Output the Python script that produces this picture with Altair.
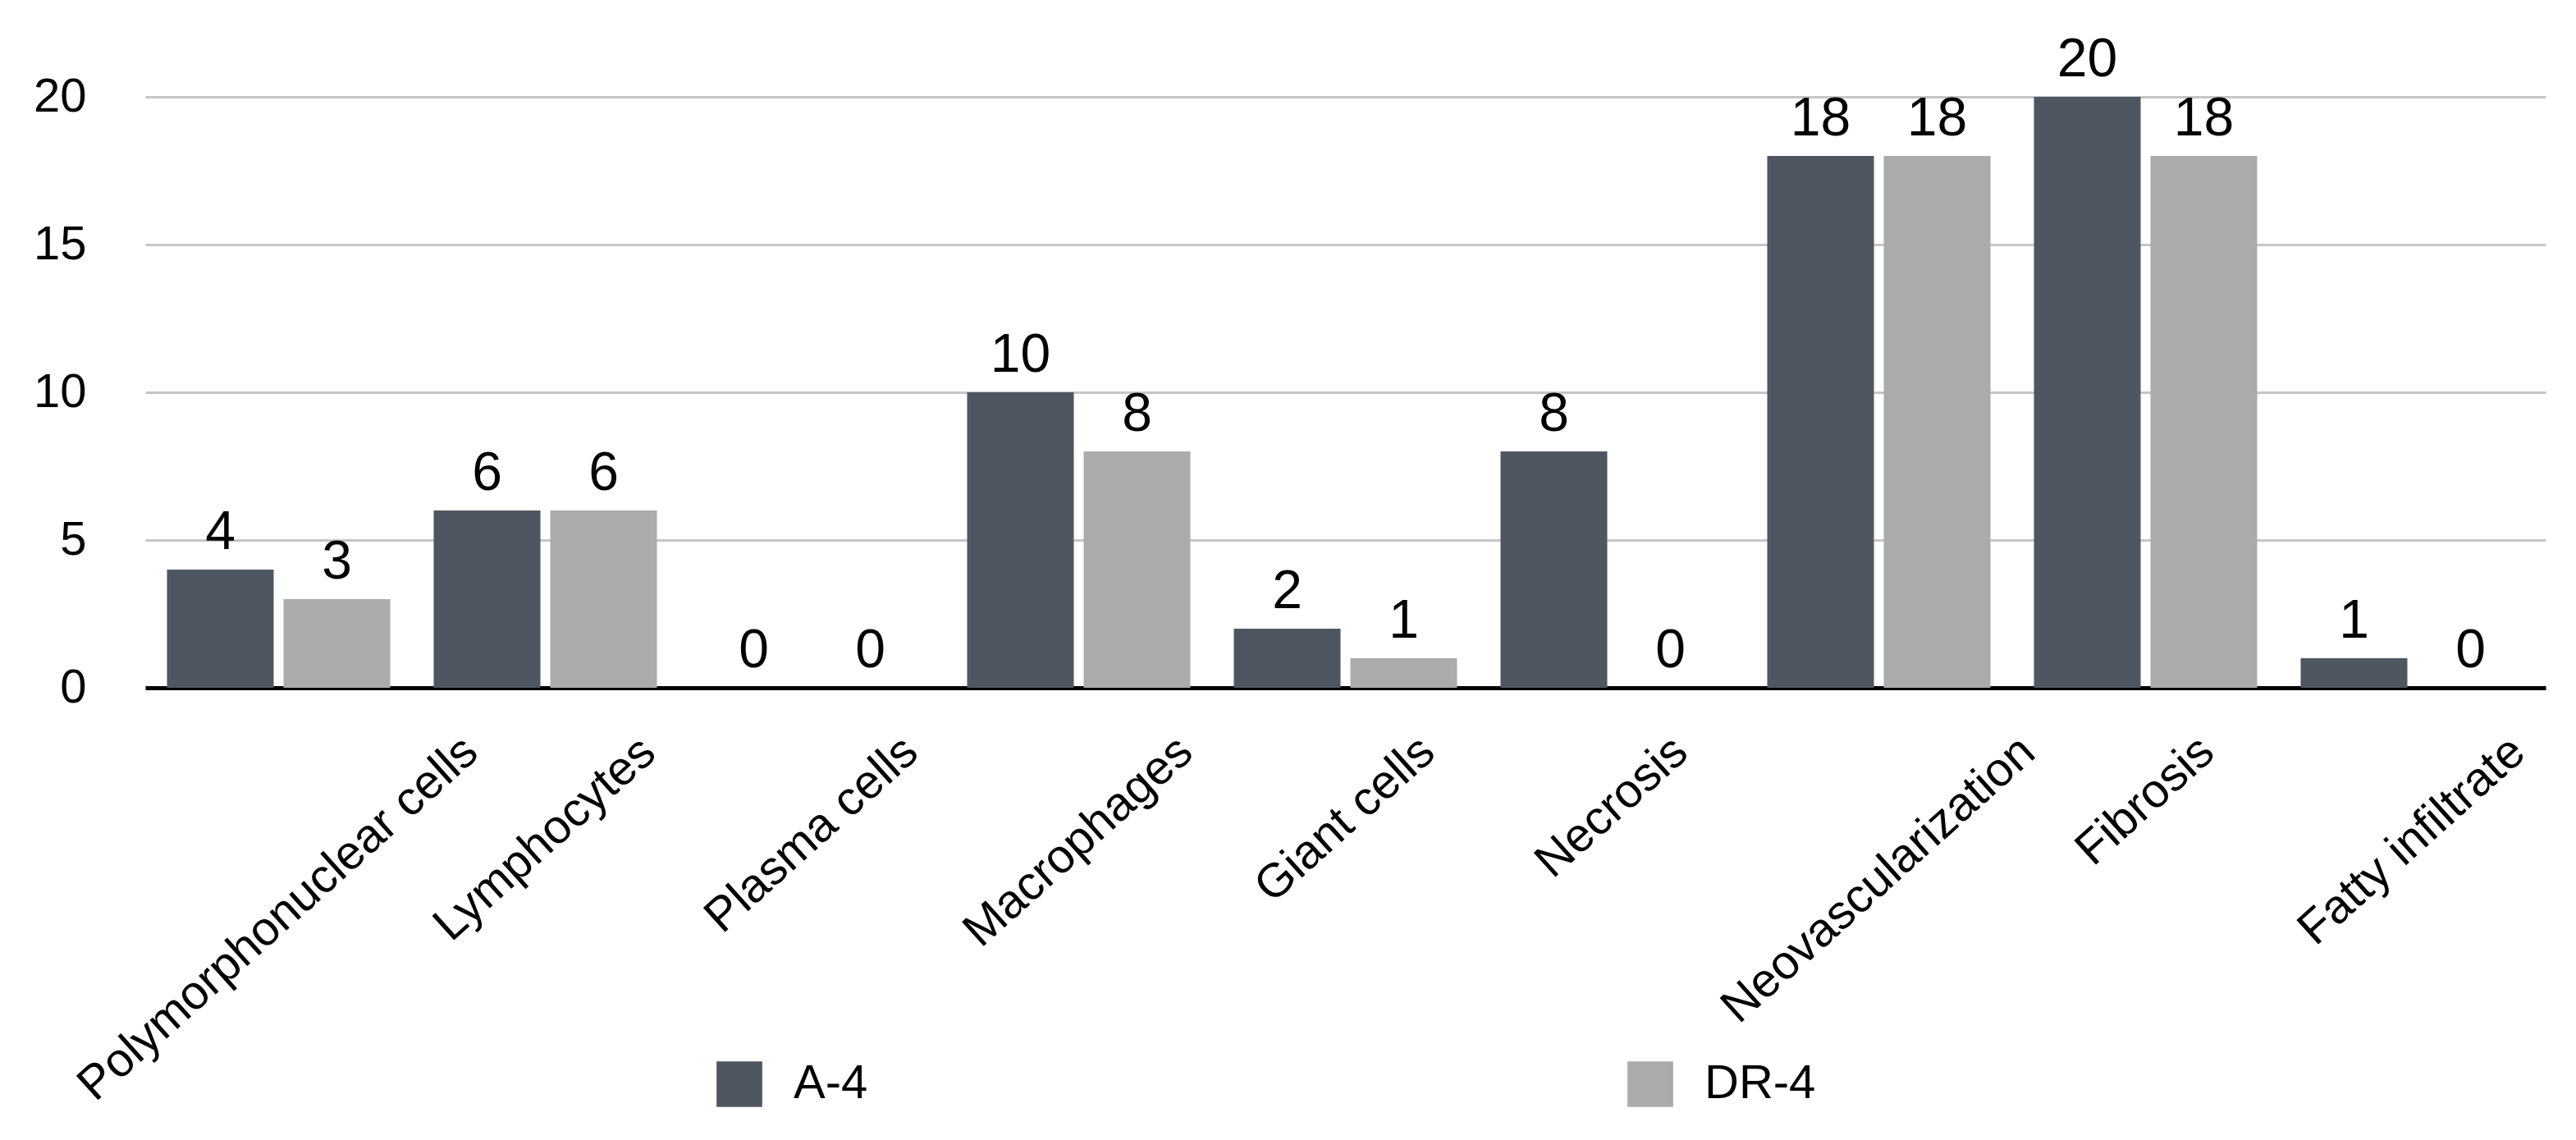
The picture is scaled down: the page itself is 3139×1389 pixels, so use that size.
import math
import altair as alt
import pandas as pd

categories = ["Polymorphonuclear cells", "Lymphocytes", "Plasma cells", "Macrophages",
              "Giant cells", "Necrosis", "Neovascularization", "Fibrosis", "Fatty infiltrate"]
a4_values = [4, 6, 0, 10, 2, 8, 18, 20, 1]
dr4_values = [3, 6, 0, 8, 1, 0, 18, 18, 0]
series = ["A-4", "DR-4"]
colors = ["#4e5761", "#ababab"]
y_ticks = [0, 5, 10, 15, 20]

FONT = "Liberation Sans"
FS = 58
FS_VAL = 66
W, H = 2925, 720
YMAX = 20
ANG = 42

rows = []
for c, a, d in zip(categories, a4_values, dr4_values):
    rows.append({"category": c, "series": series[0], "value": a})
    rows.append({"category": c, "series": series[1], "value": d})
df = pd.DataFrame(rows)

# Helvetica/Arial advance widths (1/1000 em) to estimate rotated label extents
ADV = {" ": 278, "A": 667, "D": 722, "F": 611, "G": 778, "L": 556, "M": 833, "N": 722,
       "P": 667, "a": 556, "b": 556, "c": 500, "e": 556, "f": 278, "g": 556, "h": 556,
       "i": 222, "l": 222, "m": 833, "n": 556, "o": 556, "p": 556, "r": 333, "s": 500,
       "t": 278, "u": 556, "v": 500, "y": 500, "z": 500, "-": 333}


def text_width(s):
    return sum(ADV.get(ch, 556) for ch in s) / 1000.0 * FS


rad = math.radians(ANG)


def label_pos(s):
    v = text_width(s) * math.sin(rad) + FS * 0.8 * math.cos(rad)
    px = 53 + v / 2.0
    return -px / (H / YMAX)


labels_df = pd.DataFrame({"category": categories,
                          "ly": [label_pos(c) for c in categories]})

x_scale = alt.Scale(domain=categories, paddingInner=0.163, paddingOuter=0.0815)
x_axis = alt.Axis(title=None, labels=False, ticks=False, domain=True,
                  domainColor="black", domainWidth=5, grid=False)
y_scale = alt.Scale(domain=[0, YMAX], nice=False)
y_axis = alt.Axis(values=y_ticks, title=None, ticks=False, domain=False,
                  labelFontSize=FS, labelFont=FONT, labelColor="black",
                  labelPadding=72, gridColor="#c6c6c6", gridWidth=3)

xo = alt.XOffset("series:N", sort=series, scale=alt.Scale(domain=series, paddingInner=0.0845))

bars = alt.Chart(df).mark_bar().encode(
    x=alt.X("category:N", sort=categories, scale=x_scale, axis=x_axis),
    xOffset=xo,
    y=alt.Y("value:Q", scale=y_scale, axis=y_axis),
    color=alt.Color("series:N", scale=alt.Scale(domain=series, range=colors),
                    legend=alt.Legend(orient="none", legendX=695, legendY=1174,
                                      direction="horizontal", title=None,
                                      symbolType="square", symbolSize=3100,
                                      symbolStrokeWidth=0, labelFontSize=58,
                                      labelFont=FONT, labelColor="black",
                                      columnPadding=924, labelOffset=37)),
)

values = alt.Chart(df).mark_text(baseline="alphabetic", dy=-25, fontSize=FS_VAL,
                                 font=FONT, color="black").encode(
    x=alt.X("category:N", sort=categories, scale=x_scale, axis=x_axis),
    xOffset=xo,
    y=alt.Y("value:Q", scale=y_scale, axis=y_axis),
    text=alt.Text("value:Q"),
)

cat_labels = alt.Chart(labels_df).mark_text(angle=360 - ANG, align="center",
                                            baseline="middle", fontSize=FS,
                                            font=FONT, color="black").encode(
    x=alt.X("category:N", sort=categories, scale=x_scale, axis=x_axis),
    y=alt.Y("ly:Q", scale=y_scale, axis=y_axis),
    text=alt.Text("category:N"),
)

chart = alt.layer(bars, values, cat_labels).properties(
    width=W, height=H,
    autosize=alt.AutoSizeParams(type="none"),
    padding={"left": 169, "top": 110, "right": 20, "bottom": 520},
    background="white",
).configure_view(stroke=None)

chart.save("out.html", embed_options={"renderer": "svg", "actions": False})
